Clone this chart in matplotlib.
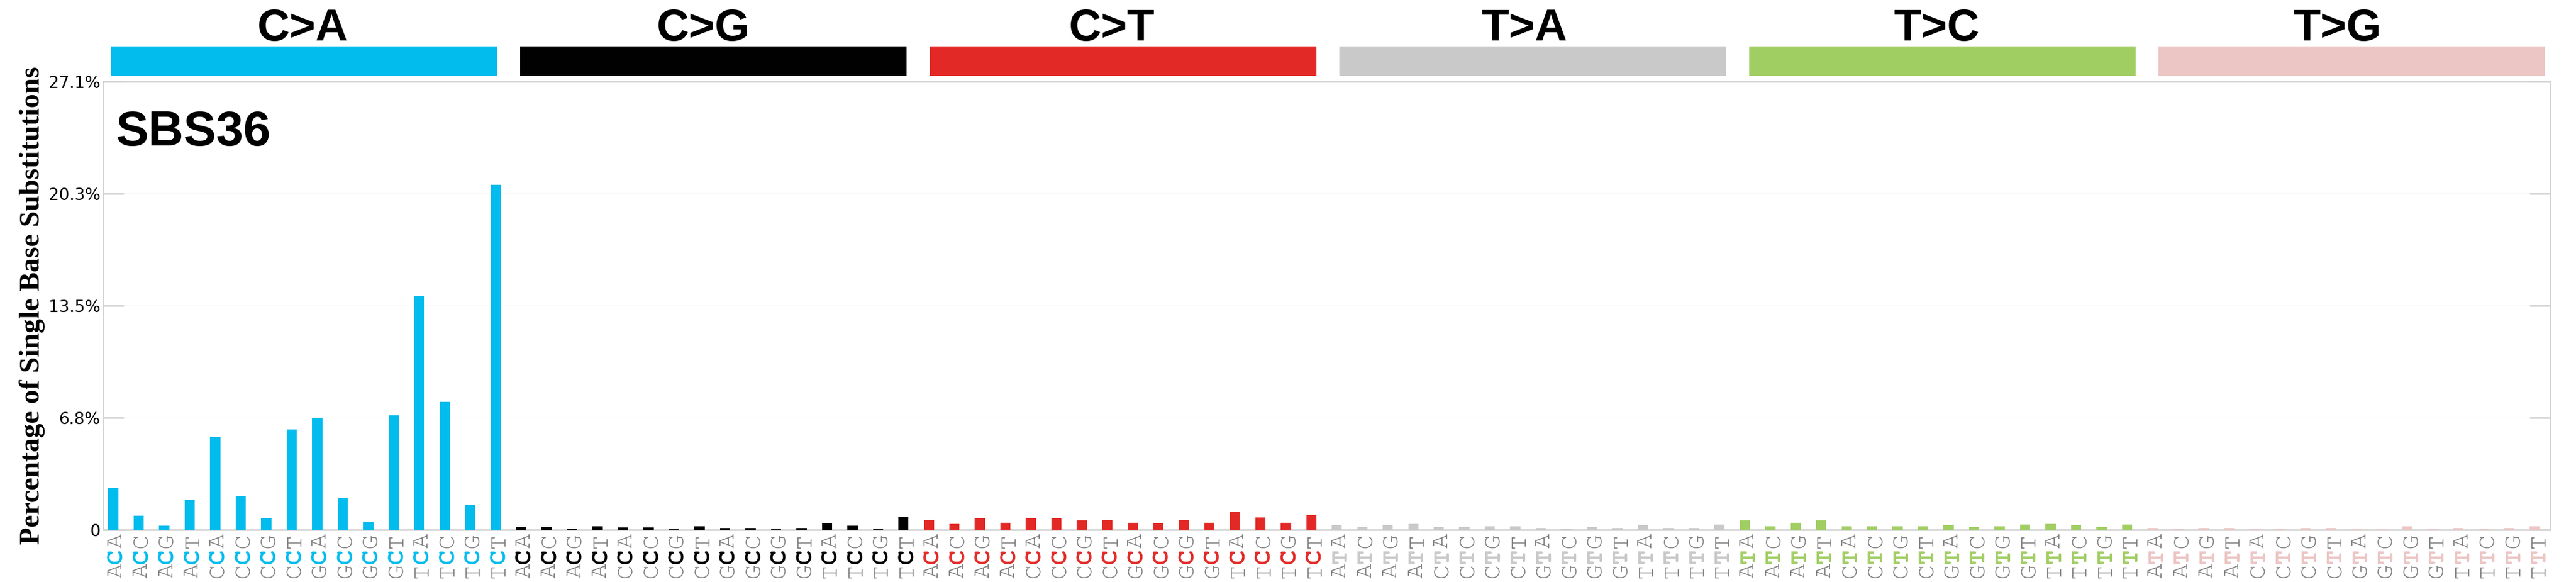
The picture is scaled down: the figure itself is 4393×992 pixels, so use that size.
import matplotlib
matplotlib.use('Agg')
import matplotlib.pyplot as plt
from matplotlib import font_manager
import numpy as np

# SBS36 profile, percentage of single base substitutions
mut_types = ['C>A', 'C>G', 'C>T', 'T>A', 'T>C', 'T>G']
c_contexts = ['ACA', 'ACC', 'ACG', 'ACT', 'CCA', 'CCC', 'CCG', 'CCT',
              'GCA', 'GCC', 'GCG', 'GCT', 'TCA', 'TCC', 'TCG', 'TCT']
t_contexts = ['ATA', 'ATC', 'ATG', 'ATT', 'CTA', 'CTC', 'CTG', 'CTT',
              'GTA', 'GTC', 'GTG', 'GTT', 'TTA', 'TTC', 'TTG', 'TTT']

ca_vals = [2.51, 0.84, 0.24, 1.80, 5.59, 2.01, 0.70, 6.05,
           6.76, 1.90, 0.48, 6.90, 14.11, 7.73, 1.48, 20.83]
cg_vals = [0.17, 0.17, 0.06, 0.20, 0.13, 0.13, 0.02, 0.20,
           0.09, 0.09, 0.02, 0.09, 0.38, 0.24, 0.02, 0.77]
ct_vals = [0.59, 0.34, 0.70, 0.43, 0.69, 0.69, 0.54, 0.58,
           0.40, 0.37, 0.58, 0.40, 1.08, 0.72, 0.40, 0.86]
ta_vals = [0.26, 0.15, 0.26, 0.33, 0.15, 0.15, 0.22, 0.22,
           0.11, 0.07, 0.15, 0.11, 0.26, 0.11, 0.11, 0.30]
tc_vals = [0.54, 0.19, 0.40, 0.54, 0.19, 0.22, 0.19, 0.22,
           0.26, 0.15, 0.19, 0.30, 0.33, 0.26, 0.15, 0.30]
tg_vals = [0.11, 0.07, 0.11, 0.11, 0.07, 0.07, 0.11, 0.11,
           0.04, 0.04, 0.19, 0.07, 0.11, 0.07, 0.11, 0.19]

ytick_vals = [0, 6.77, 13.54, 20.31, 27.08]
ytick_labels = ['0', '6.8%', '13.5%', '20.3%', '27.1%']
sample = 'SBS36'

colors = [[3/256, 189/256, 239/256], [1/256, 1/256, 1/256], [228/256, 41/256, 38/256],
          [203/256, 202/256, 202/256], [162/256, 207/256, 99/256], [236/256, 199/256, 197/256]]

groups = [ca_vals, cg_vals, ct_vals, ta_vals, tc_vals, tg_vals]
contexts = [c_contexts]*3 + [t_contexts]*3

# pick a Courier-like serif mono if there is one, else Liberation Mono
installed = {f.name for f in font_manager.fontManager.ttflist}
mono = 'Liberation Mono'
for name in ['Courier New', 'Nimbus Mono PS', 'Nimbus Mono L', 'FreeMono', 'Courier 10 Pitch']:
    if name in installed:
        mono = name
        break

plt.rcParams['axes.linewidth'] = 2
plt.rc('axes', edgecolor='lightgray')
fig = plt.figure(figsize=(43.93, 9.92), dpi=100)
ax = plt.axes([0.04, 0.09, 0.95, 0.77])

x = 0.4
xlabels = []
for g, vals in enumerate(groups):
    for ctx, v in zip(contexts[g], vals):
        ax.bar(x, v, width=0.4, color=colors[g], align='center', zorder=1000)
        xlabels.append(ctx)
        x += 1

# header bars and mutation type titles
hx = 0.043
for g in range(6):
    ax.add_patch(plt.Rectangle((hx, 0.87), 0.15, 0.05, facecolor=colors[g],
                               clip_on=False, transform=fig.transFigure))
    hx += 0.159
title_x = [0.1, 0.255, 0.415, 0.575, 0.735, 0.89]
for tx, name in zip(title_x, mut_types):
    fig.text(tx, 0.93, name, fontsize=55, fontweight='bold', family='Liberation Sans')

fig.text(0.045, 0.75, sample, fontsize=60, weight='bold', color='black',
         family='Liberation Sans')

# trinucleotide labels under the bars
m = 0
for i in range(96):
    if i > 0 and i % 16 == 0:
        m += 1
    lab = xlabels[i]
    xx = i/101 + 0.0415
    fig.text(xx, 0.02, lab[0], fontsize=30, color='gray', rotation='vertical',
             va='center', family=mono)
    fig.text(xx, 0.044, lab[1], fontsize=30, color=colors[m], rotation='vertical',
             va='center', family=mono, fontweight='bold')
    fig.text(xx, 0.071, lab[2], fontsize=30, color='gray', rotation='vertical',
             va='center', family=mono)

ax.set_xlim([0, 96])
ax.set_ylim([0, ytick_vals[-1]])
ax.set_xticks(np.arange(0.375, 96.375, 1))
ax.set_yticks(ytick_vals)
ax.set_yticklabels(ytick_labels, fontsize=20)
ax.yaxis.grid(True)
ax.grid(which='major', axis='y', color=[0.93, 0.93, 0.93], zorder=1)
ax.set_axisbelow(True)
ax.set_ylabel('Percentage of Single Base Substitutions', fontsize=35,
              family='Liberation Serif', weight='bold')
ax.tick_params(axis='both', which='both', bottom=False, labelbottom=False,
               left=True, labelleft=True, right=True, labelright=False,
               top=False, labeltop=False, direction='in', length=25,
               colors='lightgray', width=2)
for t in ax.get_yticklabels():
    t.set_color('black')

plt.savefig('out.png', dpi=100)
plt.close()
print("[OK] out.png")
